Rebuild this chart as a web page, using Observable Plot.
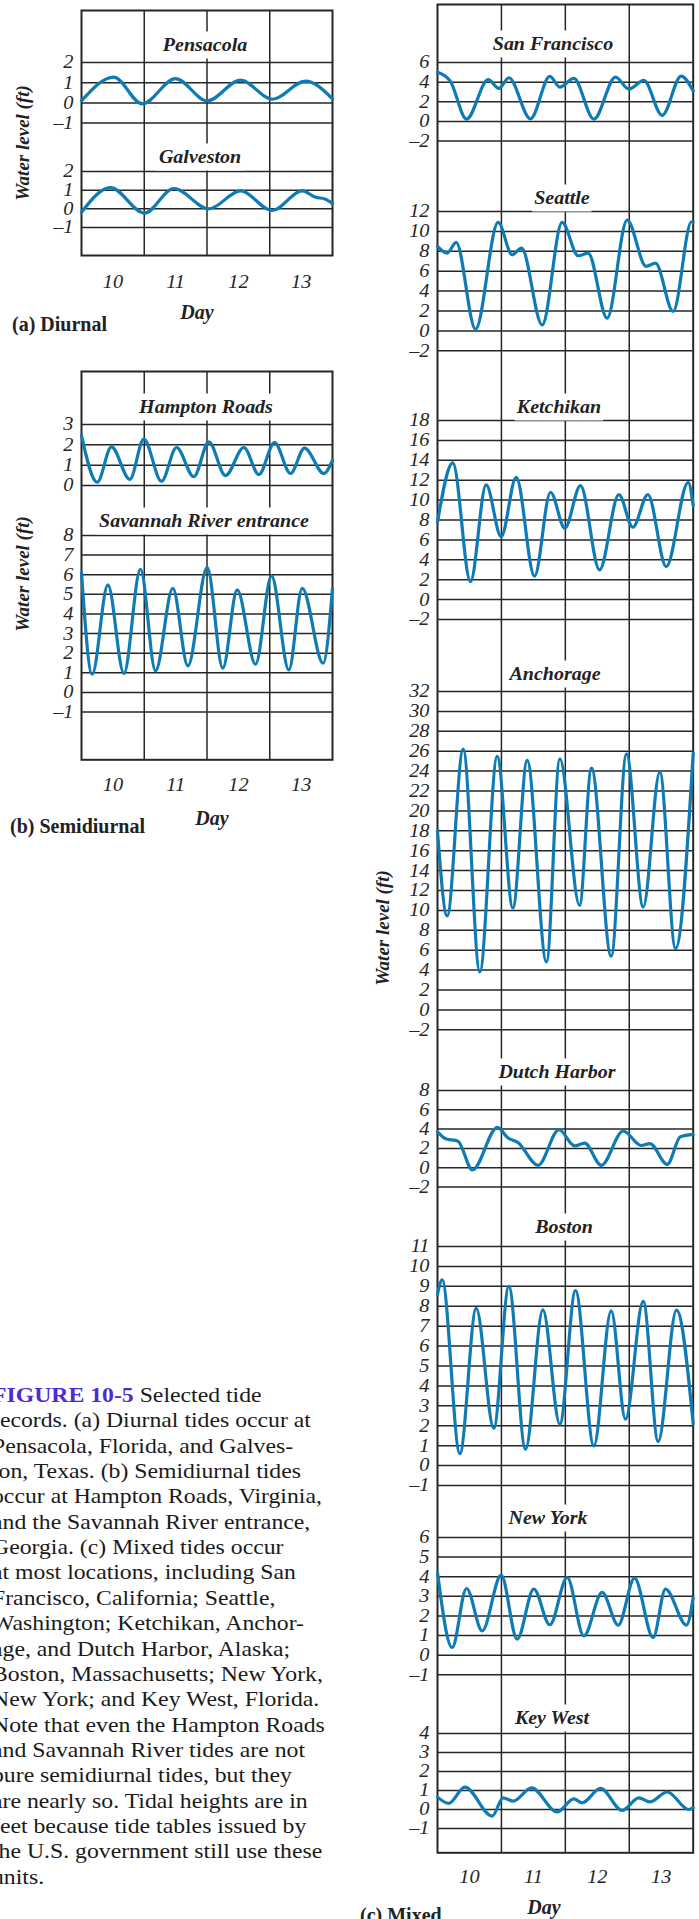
<!DOCTYPE html>
<html>
<head>
<meta charset="utf-8">
<script src="https://cdn.jsdelivr.net/npm/d3@7"></script>
<script src="https://cdn.jsdelivr.net/npm/@observablehq/plot@0.6"></script>
<style>
  html, body { margin: 0; padding: 0; background: #fff; }
  #root { position: relative; width: 699px; height: 1919px; overflow: hidden; background: #fff;
          font-family: "Liberation Serif", "Times New Roman", serif; color: #222; }
  #root svg { position: absolute; }
  .t { position: absolute; white-space: nowrap; line-height: 1; }
</style>
</head>
<body>
<div id="root"></div>
<script>
// ---------------- data ----------------
const dayTicks = [10.5, 11.5, 12.5, 13.5];
const dayLabels = ["10", "11", "12", "13"];
const dayLines = [11, 12, 13];

const pensacolaTicks = [-1, 0, 1, 2];
const pensacolaDay   = [10.0, 10.515, 10.967, 11.498, 12.003, 12.534, 13.039, 13.570, 14.0];
const pensacolaLevel = [0.1, 1.28, -0.05, 1.2, 0.1, 1.13, 0.18, 1.08, 0.2];

const galvestonTicks = [-1, 0, 1, 2];
const galvestonDay   = [10.0, 10.462, 11.004, 11.471, 12.029, 12.534, 13.039, 13.517, 13.73, 13.88, 14.0];
const galvestonLevel = [-0.18, 1.14, -0.23, 1.09, 0.0, 0.96, -0.09, 0.96, 0.62, 0.53, 0.28];

const hamptonTicks = [0, 1, 2, 3];
const hamptonDay   = [10.0, 10.25, 10.478, 10.77, 10.993, 11.275, 11.514, 11.79, 12.029, 12.295, 12.587, 12.826, 13.076, 13.331, 13.554, 13.862, 14.0];
const hamptonLevel = [2.45, 0.16, 1.9, 0.3, 2.28, 0.21, 1.87, 0.43, 2.15, 0.49, 1.87, 0.54, 2.11, 0.59, 1.84, 0.59, 1.25];

const savannahTicks = [-1, 0, 1, 2, 3, 4, 5, 6, 7, 8];
const savannahDay   = [10.0, 10.17, 10.42, 10.675, 10.94, 11.18, 11.455, 11.695, 12.003, 12.252, 12.481, 12.773, 13.028, 13.304, 13.517, 13.851, 14.0];
const savannahLevel = [6.1, 0.93, 5.48, 0.97, 6.28, 1.1, 5.31, 1.36, 6.37, 1.24, 5.23, 1.44, 5.94, 1.15, 5.31, 1.49, 5.3];

const sanFranciscoTicks = [-2, 0, 2, 4, 6];
const sanFranciscoDay   = [10.0, 10.2, 10.454, 10.793, 10.96, 11.116, 11.455, 11.757, 11.914, 12.133, 12.446, 12.785, 12.994, 13.228, 13.515, 13.812, 14.0];
const sanFranciscoLevel = [5.0, 4.1, 0.24, 4.25, 3.36, 4.45, 0.27, 4.59, 3.49, 4.38, 0.24, 4.52, 3.29, 4.18, 0.62, 4.62, 3.1];

const seattleTicks = [-2, 0, 2, 4, 6, 8, 10, 12];
const seattleDay   = [10.0, 10.151, 10.292, 10.595, 10.949, 11.168, 11.314, 11.638, 11.95, 12.2, 12.357, 12.654, 12.967, 13.265, 13.411, 13.687, 13.974, 14.0];
const seattleLevel = [8.5, 7.82, 8.89, 0.17, 10.9, 7.65, 8.32, 0.6, 10.9, 7.55, 7.82, 1.28, 11.14, 6.48, 6.81, 1.95, 10.97, 10.9];

const ketchikanTicks = [-2, 0, 2, 4, 6, 8, 10, 12, 14, 16, 18];
const ketchikanDay   = [10.0, 10.24, 10.516, 10.761, 10.996, 11.231, 11.518, 11.768, 11.992, 12.237, 12.535, 12.837, 13.056, 13.291, 13.578, 13.922, 14.0];
const ketchikanLevel = [7.8, 13.74, 1.81, 11.52, 6.33, 12.29, 2.35, 10.79, 7.17, 11.46, 2.98, 10.55, 7.27, 10.55, 3.32, 11.79, 9.45];

const anchorageTicks = [-2, 0, 2, 4, 6, 8, 10, 12, 14, 16, 18, 20, 22, 24, 26, 28, 30, 32];
const anchorageDay   = [10.0, 10.151, 10.402, 10.662, 10.934, 11.179, 11.403, 11.705, 11.914, 12.222, 12.409, 12.717, 12.957, 13.218, 13.478, 13.724, 14.0];
const anchorageLevel = [18.0, 9.44, 26.21, 3.82, 25.47, 10.24, 25.07, 4.82, 25.24, 10.51, 24.3, 5.39, 25.74, 10.34, 23.9, 6.16, 25.8];

const dutchHarborTicks = [-2, 0, 2, 4, 6, 8];
const dutchHarborDay   = [10.0, 10.13, 10.32, 10.547, 10.9375, 11.10, 11.26, 11.573, 11.901, 12.146, 12.302, 12.5625, 12.906, 13.1875, 13.323, 13.594, 13.80, 14.0];
const dutchHarborLevel = [3.72, 3.0, 2.75, -0.24, 4.18, 3.1, 2.6, 0.25, 3.93, 2.26, 2.55, 0.25, 3.8, 2.3, 2.5, 0.35, 3.2, 3.45];

const bostonTicks = [-1, 0, 1, 2, 3, 4, 5, 6, 7, 8, 9, 10, 11];
const bostonDay   = [10.0, 10.073, 10.35, 10.605, 10.881, 11.116, 11.377, 11.648, 11.914, 12.159, 12.446, 12.717, 12.941, 13.218, 13.452, 13.739, 14.0];
const bostonLevel = [8.6, 9.32, 0.6, 7.89, 1.88, 9.0, 0.82, 7.82, 2.08, 8.78, 0.99, 7.77, 2.33, 8.24, 1.21, 7.81, 2.1];

const newYorkTicks = [-1, 0, 1, 2, 3, 4, 5, 6];
const newYorkDay   = [10.0, 10.229, 10.454, 10.699, 10.996, 11.246, 11.507, 11.757, 12.029, 12.29, 12.576, 12.827, 13.082, 13.374, 13.567, 13.896, 14.0];
const newYorkLevel = [4.21, 0.39, 3.4, 1.24, 4.08, 0.82, 3.37, 1.55, 3.96, 0.98, 3.2, 1.53, 3.93, 0.9, 3.37, 1.53, 2.94];

const keyWestTicks = [-1, 0, 1, 2, 3, 4];
const keyWestDay   = [10.0, 10.177, 10.428, 10.855, 11.027, 11.184, 11.471, 11.872, 12.133, 12.263, 12.55, 12.889, 13.15, 13.322, 13.593, 13.932, 14.0];
const keyWestLevel = [0.65, 0.32, 1.18, -0.35, 0.61, 0.44, 1.14, -0.13, 0.56, 0.35, 1.11, -0.05, 0.61, 0.4, 0.92, 0.0, 0.1];

const captionLines = [
  "Selected tide",
  "records. (a) Diurnal tides occur at",
  "Pensacola, Florida, and Galves-",
  "ton, Texas. (b) Semidiurnal tides",
  "occur at Hampton Roads, Virginia,",
  "and the Savannah River entrance,",
  "Georgia. (c) Mixed tides occur",
  "at most locations, including San",
  "Francisco, California; Seattle,",
  "Washington; Ketchikan, Anchor-",
  "age, and Dutch Harbor, Alaska;",
  "Boston, Massachusetts; New York,",
  "New York; and Key West, Florida.",
  "Note that even the Hampton Roads",
  "and Savannah River tides are not",
  "pure semidiurnal tides, but they",
  "are nearly so. Tidal heights are in",
  "feet because tide tables issued by",
  "the U.S. government still use these",
  "units."
];

// ---------------- layout & style ----------------
const FONT = "'Liberation Serif', 'Times New Roman', serif";
const INK = "#262626";
const BLUE = "#0e7bb4";
const root = document.getElementById("root");

const cols = {
  a: {left: 81, right: 332, top: 10, bottom: 255, pad: 20},
  b: {left: 81, right: 332, top: 370.7, bottom: 759, pad: 19.5},
  c: {left: 437, right: 692.7, top: 4.3, bottom: 1852.7, pad: 18}
};

const stations = [
  {name: "Pensacola", day: pensacolaDay, level: pensacolaLevel, ticks: pensacolaTicks, col: "a", yTop: 61.7, yBot: 122.3, tx: 205, ty: 45},
  {name: "Galveston", day: galvestonDay, level: galvestonLevel, ticks: galvestonTicks, col: "a", yTop: 171, yBot: 227, tx: 200, ty: 157},
  {name: "Hampton Roads", day: hamptonDay, level: hamptonLevel, ticks: hamptonTicks, col: "b", yTop: 424.3, yBot: 485.3, tx: 206, ty: 407},
  {name: "Savannah River entrance", day: savannahDay, level: savannahLevel, ticks: savannahTicks, col: "b", yTop: 534.7, yBot: 711.3, tx: 204, ty: 521},
  {name: "San Francisco", day: sanFranciscoDay, level: sanFranciscoLevel, ticks: sanFranciscoTicks, col: "c", yTop: 61.7, yBot: 140.3, tx: 553, ty: 44},
  {name: "Seattle", day: seattleDay, level: seattleLevel, ticks: seattleTicks, col: "c", yTop: 210.7, yBot: 350, tx: 562, ty: 198},
  {name: "Ketchikan", day: ketchikanDay, level: ketchikanLevel, ticks: ketchikanTicks, col: "c", yTop: 420, yBot: 619, tx: 559, ty: 407},
  {name: "Anchorage", day: anchorageDay, level: anchorageLevel, ticks: anchorageTicks, col: "c", yTop: 691, yBot: 1029.3, tx: 555, ty: 674},
  {name: "Dutch Harbor", day: dutchHarborDay, level: dutchHarborLevel, ticks: dutchHarborTicks, col: "c", yTop: 1090, yBot: 1186.5, tx: 557, ty: 1072},
  {name: "Boston", day: bostonDay, level: bostonLevel, ticks: bostonTicks, col: "c", yTop: 1245.7, yBot: 1484.7, tx: 564, ty: 1227},
  {name: "New York", day: newYorkDay, level: newYorkLevel, ticks: newYorkTicks, col: "c", yTop: 1536.7, yBot: 1674, tx: 548, ty: 1518},
  {name: "Key West", day: keyWestDay, level: keyWestLevel, ticks: keyWestTicks, col: "c", yTop: 1732.7, yBot: 1827.7, tx: 552, ty: 1718}
];

function stretchText(svg, k) {
  svg.querySelectorAll("text").forEach(t => {
    const L = t.getComputedTextLength();
    if (L > 0) {
      t.setAttribute("textLength", (L * k).toFixed(2));
      t.setAttribute("lengthAdjust", "spacingAndGlyphs");
    }
  });
}

function place(svg, left, top) {
  svg.style.left = left + "px";
  svg.style.top = top + "px";
  root.appendChild(svg);
}

const svgStyle = {background: "transparent", overflow: "visible", fontFamily: FONT, fontSize: "18.5px", fontStyle: "italic", color: INK};

// column frames, day lines and day labels
for (const key of ["a", "b", "c"]) {
  const c = cols[key];
  const m = 2, mb = 44;
  const svg = Plot.plot({
    width: c.right - c.left + 2 * m,
    height: c.bottom - c.top + m + mb,
    marginLeft: m, marginRight: m, marginTop: m, marginBottom: mb,
    x: {domain: [10, 14]},
    style: svgStyle,
    marks: [
      Plot.ruleX(dayLines, {stroke: INK, strokeWidth: 1.5}),
      Plot.frame({stroke: INK, strokeWidth: 2}),
      Plot.axisX({ticks: dayTicks, tickFormat: d => dayLabels[dayTicks.indexOf(d)], tickSize: 0, tickPadding: c.pad - 1, label: null, fill: INK})
    ]
  });
  place(svg, c.left - m, c.top - m);
  stretchText(svg, 1.1);
}

// stations
const fmt = d => d < 0 ? "\u2013" + (-d) : String(d);
for (const s of stations) {
  const c = cols[s.col];
  const ml = 50, mr = 2, mt = 12, mb = 12;
  const data = s.day.map((d, i) => ({day: d, level: s.level[i]}));
  const svg = Plot.plot({
    width: c.right - c.left + ml + mr,
    height: s.yBot - s.yTop + mt + mb,
    marginLeft: ml, marginRight: mr, marginTop: mt, marginBottom: mb,
    x: {domain: [10, 14], axis: null},
    y: {domain: d3.extent(s.ticks)},
    style: svgStyle,
    marks: [
      Plot.ruleY(s.ticks, {stroke: INK, strokeWidth: 1.5}),
      Plot.axisY({ticks: s.ticks, tickSize: 0, tickPadding: 8, tickFormat: fmt, label: null, fill: INK}),
      Plot.line(data, {x: "day", y: "level", curve: "monotone-x", stroke: BLUE, strokeWidth: 3.2, strokeLinejoin: "round", strokeLinecap: "round"})
    ]
  });
  place(svg, c.left - ml, s.yTop - mt);
  stretchText(svg, 1.1);
}

// html text
function text(str, css) {
  const d = document.createElement("div");
  d.className = "t";
  d.innerHTML = str;
  Object.assign(d.style, css);
  root.appendChild(d);
  return d;
}

for (const s of stations) {
  text(s.name, {left: s.tx + "px", top: s.ty + "px", font: `bold italic 18.5px ${FONT}`, background: "#fff",
    padding: "3px 2px", transform: "translate(-50%,-50%) scaleX(1.08)", color: "#222"});
}

const dayTitles = [[197, 312], [212, 818], [544, 1907]];
for (const [x, y] of dayTitles) {
  text("Day", {left: x + "px", top: y + "px", font: `bold italic 20px ${FONT}`, transform: "translate(-50%,-50%)"});
}

const yTitles = [[23, 143], [23, 574], [383, 928]];
for (const [x, y] of yTitles) {
  text("Water level (ft)", {left: x + "px", top: y + "px", font: `bold italic 19px ${FONT}`,
    transform: "translate(-50%,-50%) rotate(-90deg)"});
}

text("(a) Diurnal", {left: "12px", top: "313px", font: `bold 20px ${FONT}`});
text("(b) Semidiurnal", {left: "10px", top: "815px", font: `bold 20px ${FONT}`});
text("(c) Mixed", {left: "360px", top: "1904px", font: `bold 20px ${FONT}`});

captionLines.forEach((line, i) => {
  const html = i === 0 ? `<span style="color:#4b2bd6;font-weight:bold">FIGURE 10-5</span> ${line}` : line;
  text(html, {left: "-8px", top: (1395 + i * 25.35) + "px", font: `21px ${FONT}`,
    transform: "translateY(-50%) scaleX(1.13)", transformOrigin: "left center", color: "#1a1a1a"});
});
</script>
</body>
</html>
